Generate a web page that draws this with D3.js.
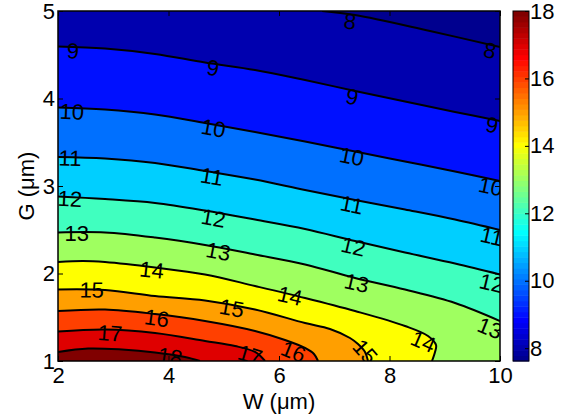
<!DOCTYPE html>
<html><head><meta charset="utf-8">
<script src="https://cdn.jsdelivr.net/npm/d3@7"></script>
<style>body{margin:0;background:#fff}svg text{font-family:"Liberation Sans",Arial,Helvetica,sans-serif}</style>
</head><body><svg id="c" width="574" height="420"></svg>
<script>
// ---------- data ----------
const levels = [8, 9, 10, 11, 12, 13, 14, 15, 16, 17, 18];
const dataMin = 7.62, dataMax = 18;
// contour lines as [W, G] points
const line8  = [[6.78,5.0],[7.376,4.954],[8.733,4.771],[10,4.589]];
const line9  = [[2,4.594],[2.851,4.571],[3.756,4.509],[4.661,4.411],[5.566,4.326],[6.471,4.211],[7.376,4.086],[8.281,3.966],[9.186,3.846],[10,3.743]];
const line10 = [[2,3.897],[2.851,3.874],[3.756,3.817],[4.661,3.720],[5.566,3.617],[6.471,3.509],[7.376,3.394],[8.281,3.280],[9.186,3.166],[10,3.057]];
const line11 = [[2,3.331],[2.851,3.314],[3.756,3.263],[4.661,3.171],[5.566,3.074],[6.471,2.954],[7.376,2.840],[8.281,2.731],[9.186,2.617],[10,2.497]];
const line12 = [[2,2.880],[2.851,2.851],[3.756,2.806],[4.661,2.720],[5.566,2.617],[6.471,2.509],[7.376,2.371],[8.281,2.240],[9.186,2.114],[10,1.989]];
const line13 = [[2,2.469],[2.851,2.469],[3.756,2.411],[4.661,2.326],[5.566,2.217],[6.471,2.103],[7.376,1.949],[8.281,1.817],[9.186,1.663],[10,1.457]];
const line14 = [[2,2.131],[2.452,2.143],[2.851,2.131],[3.756,2.069],[4.661,1.989],[5.566,1.857],[6.471,1.720],[7.376,1.571],[8.281,1.400],[8.697,1.286],[8.842,1.183],[8.824,1.103],[8.769,1.0]];
const line15 = [[2,1.817],[2.851,1.811],[3.756,1.743],[4.661,1.691],[5.566,1.589],[6.471,1.434],[6.923,1.366],[7.285,1.263],[7.430,1.194],[7.557,1.103],[7.611,1.0]];
const line16 = [[2,1.571],[2.851,1.589],[3.756,1.537],[4.661,1.457],[5.566,1.343],[6.109,1.240],[6.471,1.149],[6.633,1.080],[6.706,1.0]];
const line17 = [[2,1.337],[2.851,1.360],[3.756,1.320],[4.661,1.229],[5.204,1.171],[5.566,1.103],[5.747,1.0]];
const line18 = [[2,1.103],[2.543,1.143],[3.158,1.131],[3.756,1.097],[4.299,1.046],[4.570,1.0]];
const contourLines = [line8, line9, line10, line11, line12, line13, line14, line15, line16, line17, line18];
// contour label positions [W, G] per level
const labels8  = [[7.285,4.880],[9.819,4.549]];
const labels9  = [[2.271,4.543],[4.805,4.349],[7.321,4.017],[9.855,3.697]];
const labels10 = [[2.248,3.849],[4.811,3.659],[7.316,3.335],[9.832,2.992]];
const labels11 = [[2.217,3.317],[4.782,3.106],[7.316,2.783],[9.850,2.421]];
const labels12 = [[2.217,2.851],[4.811,2.631],[7.345,2.306],[9.850,1.888]];
const labels13 = [[2.338,2.459],[4.901,2.249],[7.406,1.888],[9.819,1.374]];
const labels14 = [[3.696,2.040],[6.199,1.743],[8.612,1.221]];
const labels15 = [[2.610,1.811],[5.144,1.602],[7.557,1.106]];
const labels16 = [[3.786,1.488],[6.259,1.106]];
const labels17 = [[2.941,1.317],[5.475,1.069]];
const labels18 = [[4.027,1.049]];
const contourLabels = [labels8, labels9, labels10, labels11, labels12, labels13, labels14, labels15, labels16, labels17, labels18];
const xTicks = [2, 4, 6, 8, 10];
const yTicks = [1, 2, 3, 4, 5];
const cbTicks = [8, 10, 12, 14, 16, 18];
const xTitle = "W (\u03bcm)", yTitle = "G (\u03bcm)";

// ---------- jet(64) colormap ----------
function jet(m) {
  const n = Math.ceil(m / 4);
  const u = [];
  for (let i = 1; i <= n; i++) u.push(i / n);
  for (let i = 1; i < n; i++) u.push(1);
  for (let i = n; i >= 1; i--) u.push(i / n);
  const g0 = Math.ceil(n / 2) - (m % 4 === 1 ? 1 : 0);
  const cols = d3.range(m).map(() => [0, 0, 0]);
  u.forEach((v, k) => {
    const gi = g0 + k + 1, ri = gi + n, bi = gi - n;
    if (ri >= 1 && ri <= m) cols[ri - 1][0] = v;
    if (gi >= 1 && gi <= m) cols[gi - 1][1] = v;
    if (bi >= 1 && bi <= m) cols[bi - 1][2] = v;
  });
  return cols.map(c => d3.rgb(c[0] * 255, c[1] * 255, c[2] * 255).toString());
}
const cmap = jet(64);
const colorOf = v => cmap[Math.max(0, Math.min(63, Math.floor((v - dataMin) / (dataMax - dataMin) * 64)))];

// ---------- layout ----------
const svg = d3.select("#c");
const L = 58, R = 500, T = 11, B = 361;
const FS = 22;
const x = d3.scaleLinear().domain([2, 10]).range([L, R]);
const y = d3.scaleLinear().domain([1, 5]).range([B, T]);

svg.append("defs").append("clipPath").attr("id", "clip")
  .append("rect").attr("x", L).attr("y", T).attr("width", R - L).attr("height", B - T);

const plot = svg.append("g").attr("clip-path", "url(#clip)");
const lineGen = d3.line().x(d => x(d[0])).y(d => y(d[1])).curve(d3.curveCatmullRom.alpha(0.5));

function perim(p) {
  const e = 1e-6, w = p[0], g = p[1];
  if (Math.abs(g - 5) < e) return (w - 2) / 8;
  if (Math.abs(w - 10) < e) return 1 + (5 - g) / 4;
  if (Math.abs(g - 1) < e) return 2 + (10 - w) / 8;
  return 3 + (g - 1) / 4;
}
const corners = [[[2, 5], 0], [[10, 5], 1], [[10, 1], 2], [[2, 1], 3]];

plot.append("rect").attr("x", L).attr("y", T).attr("width", R - L).attr("height", B - T)
  .attr("fill", colorOf(dataMin));

levels.forEach((lv, i) => {
  const pts = contourLines[i];
  const pe = perim(pts[pts.length - 1]);
  let ps = perim(pts[0]);
  if (ps <= pe) ps += 4;
  const cs = [];
  [0, 4].forEach(off => corners.forEach(c => {
    const p = c[1] + off;
    if (p > pe && p < ps) cs.push({ pt: c[0], p: p });
  }));
  cs.sort((a, b) => a.p - b.p);
  let path = lineGen(pts);
  cs.forEach(c => { path += "L" + x(c.pt[0]) + "," + y(c.pt[1]); });
  path += "Z";
  plot.append("path").attr("d", path).attr("fill", colorOf(lv)).attr("stroke", "none");
});

levels.forEach((lv, i) => {
  plot.append("path").attr("d", lineGen(contourLines[i]))
    .attr("fill", "none").attr("stroke", "#000").attr("stroke-width", 2);
});

// labels, rotated along the nearest line segment
levels.forEach((lv, i) => {
  const pts = contourLines[i].map(p => [x(p[0]), y(p[1])]);
  contourLabels[i].forEach(lp => {
    const px = x(lp[0]), py = y(lp[1]);
    let best = 1e9, ang = 0;
    for (let k = 0; k < pts.length - 1; k++) {
      const a = pts[k], b = pts[k + 1];
      const dx = b[0] - a[0], dy = b[1] - a[1];
      const t = Math.max(0, Math.min(1, ((px - a[0]) * dx + (py - a[1]) * dy) / (dx * dx + dy * dy)));
      const qx = a[0] + t * dx - px, qy = a[1] + t * dy - py;
      const d = qx * qx + qy * qy;
      if (d < best) { best = d; ang = Math.atan2(dy, dx) * 180 / Math.PI; }
    }
    if (ang > 90) ang -= 180;
    if (ang < -90) ang += 180;
    plot.append("text").attr("transform", `translate(${px},${py}) rotate(${ang})`)
      .attr("text-anchor", "middle").attr("dominant-baseline", "central")
      .attr("font-size", FS).attr("fill", "#000").text(lv);
  });
});

// axes
const fmt = d3.format("d");
const gx = svg.append("g").attr("transform", `translate(0,${B})`)
  .call(d3.axisBottom(x).tickValues(xTicks).tickFormat(fmt).tickSizeInner(-5).tickSizeOuter(0).tickPadding(6));
const gy = svg.append("g").attr("transform", `translate(${L},0)`)
  .call(d3.axisLeft(y).tickValues(yTicks).tickFormat(fmt).tickSizeInner(-5).tickSizeOuter(0).tickPadding(3));
const gt = svg.append("g").attr("transform", `translate(0,${T})`)
  .call(d3.axisTop(x).tickValues(xTicks).tickFormat("").tickSizeInner(-5).tickSizeOuter(0));
const gr = svg.append("g").attr("transform", `translate(${R},0)`)
  .call(d3.axisRight(y).tickValues(yTicks).tickFormat("").tickSizeInner(-5).tickSizeOuter(0));
[gx, gy, gt, gr].forEach(g => {
  g.select(".domain").remove();
  g.selectAll("line").attr("stroke", "#000");
  g.selectAll("text").attr("font-size", FS).attr("fill", "#000").attr("font-family", null);
});
svg.append("rect").attr("x", L).attr("y", T).attr("width", R - L).attr("height", B - T)
  .attr("fill", "none").attr("stroke", "#000").attr("stroke-width", 1.5);

svg.append("text").attr("x", (L + R) / 2).attr("y", 409).attr("text-anchor", "middle")
  .attr("font-size", 22).text(xTitle);
svg.append("text").attr("transform", `translate(34,${(T + B) / 2}) rotate(-90)`).attr("text-anchor", "middle")
  .attr("font-size", 22).text(yTitle);

// colorbar
const CL = 513, CR = 529;
const cb = d3.scaleLinear().domain([dataMin, dataMax]).range([B, T]);
const step = (dataMax - dataMin) / 64;
const cbg = svg.append("g");
cbg.selectAll("rect").data(cmap).join("rect")
  .attr("x", CL).attr("width", CR - CL)
  .attr("y", (d, i) => cb(dataMin + (i + 1) * step))
  .attr("height", (d, i) => cb(dataMin + i * step) - cb(dataMin + (i + 1) * step) + 0.5)
  .attr("fill", d => d);
const gcb = svg.append("g").attr("transform", `translate(${CR},0)`)
  .call(d3.axisRight(cb).tickValues(cbTicks).tickFormat(fmt).tickSizeInner(-4).tickSizeOuter(0).tickPadding(1));
gcb.select(".domain").remove();
gcb.selectAll("line").attr("stroke", "#000");
gcb.selectAll("text").attr("font-size", FS).attr("fill", "#000").attr("font-family", null);
svg.append("rect").attr("x", CL).attr("y", T).attr("width", CR - CL).attr("height", B - T)
  .attr("fill", "none").attr("stroke", "#000").attr("stroke-width", 1);
</script></body></html>
